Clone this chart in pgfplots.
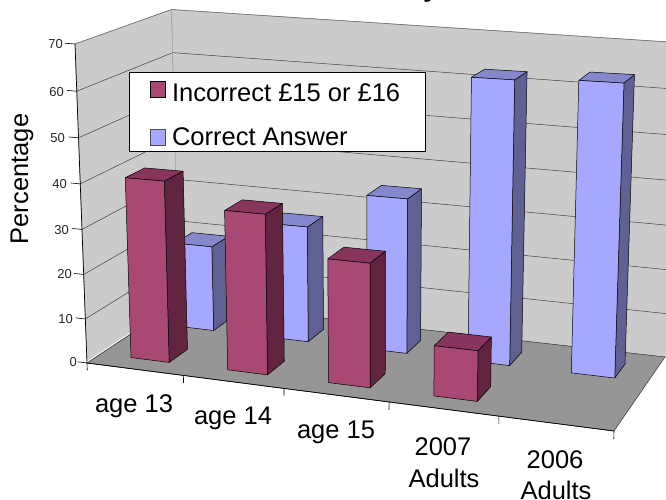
\documentclass[border=0pt]{standalone}
\usepackage{fontspec}
\setmainfont{Liberation Sans}
\usepackage{pgfplots}
\pgfplotsset{compat=1.18}
\definecolor{mfront}{HTML}{A94873}
\definecolor{mtop}{HTML}{87355C}
\definecolor{mside}{HTML}{622540}
\definecolor{bfront}{HTML}{A6A8FF}
\definecolor{btop}{HTML}{8587CC}
\definecolor{bside}{HTML}{5F6193}
\definecolor{wallc}{HTML}{CBCBCB}
\definecolor{floorc}{HTML}{969696}
% Perspective projection of (u = along categories 0..1, v = depth 0..1, p = percentage)
\newcommand\PD{(1-0.1048*\thisrow{u}+0.0954*\thisrow{v}-0.000571*\thisrow{p})}
\newcommand\PX{(462.65*\thisrow{u}+109.08*\thisrow{v}-0.2143*\thisrow{p}+87)/\PD}
\newcommand\PY{(22.83*\thisrow{u}-32.19*\thisrow{v}-4.5823*\thisrow{p}+363)/\PD}
\newcommand\PYW{\PY+0.1143*\thisrow{u}*\thisrow{p}}
\newcommand\face[5]{%
  \addplot[fill=#1,draw=black,line width=0.5pt,line join=round,forget plot]
    table[row sep=\\,x expr=\PX,y expr=\PY]{u v p\\ #2\\ #3\\ #4\\ #5\\ #2\\};}
% \barbox{front}{top}{side}{u0}{u1}{v0}{v1}{value}
\newcommand\barbox[8]{%
  \face{#3}{#5 #6 0}{#5 #7 0}{#5 #7 #8}{#5 #6 #8}%
  \face{#2}{#4 #6 #8}{#5 #6 #8}{#5 #7 #8}{#4 #7 #8}%
  \face{#1}{#4 #6 0}{#5 #6 0}{#5 #6 #8}{#4 #6 #8}}
\newcommand\wallpoly[5]{%
  \addplot[fill=#1,draw=#1!70!black,line width=0.4pt,forget plot]
    table[row sep=\\,x expr=\PX,y expr=\PYW]{u v p\\ #2\\ #3\\ #4\\ #5\\ #2\\};}
\newcommand\gridl[1]{%
  \addplot[draw=black!75,line width=0.5pt,forget plot]
    table[row sep=\\,x expr=\PX,y expr=\PYW]{u v p\\ 0 0 #1\\ 0 1 #1\\ 1.05 1 #1\\};}
\newcommand\segm[3]{%
  \addplot[#1,forget plot]
    table[row sep=\\,x expr=\PX,y expr=\PYW]{u v p\\ #2\\ #3\\};}
\begin{document}
\begin{tikzpicture}
\path[use as bounding box,clip] (0,0) rectangle (666pt,500pt);
\begin{axis}[
  at={(0,0)},anchor=south west,
  width=666pt,height=500pt,scale only axis,
  xmin=0,xmax=666,ymin=0,ymax=500,y dir=reverse,
  hide axis,clip=false,
  legend style={at={(axis cs:129,72)},anchor=north west,draw=black,line width=0.6pt,fill=white,
    font=\fontsize{25.5pt}{28pt}\selectfont,inner xsep=21pt,inner ysep=2.5pt,row sep=21pt},
  legend cell align=left,
]
% walls, floor
\wallpoly{wallc}{0 0 0}{0 0 70}{0 1 70}{0 1 0}
\wallpoly{wallc}{0 1 0}{0 1 70}{1.05 1 70}{1.05 1 0}
\addplot[fill=floorc,draw=black!80,line width=0.5pt,forget plot]
  table[row sep=\\,x expr=\PX,y expr=\PYW]{u v p\\ 0 0 0\\ 1 0 0\\ 1 1 0\\ 0 1 0\\ 0 0 0\\};
\gridl{10}\gridl{20}\gridl{30}\gridl{40}\gridl{50}\gridl{60}
\segm{draw=black!55,line width=0.6pt}{0 0 70}{0 1 70}
\segm{draw=black!55,line width=0.6pt}{0 1 70}{1.05 1 70}
\segm{draw=black!30,line width=0.5pt}{0 1 0}{0 1 70}
\segm{draw=black,line width=0.7pt}{0 0 0}{0 0 70}
\segm{draw=white,line width=0.7pt}{0 0 0.3}{0 1 0.3}
\segm{draw=black,line width=0.7pt}{0 0 0}{1 0 0}
% value-axis ticks
\segm{draw=black,line width=0.6pt}{-0.02 0 0}{0 0 0}
\segm{draw=black,line width=0.6pt}{-0.02 0 10}{0 0 10}
\segm{draw=black,line width=0.6pt}{-0.02 0 20}{0 0 20}
\segm{draw=black,line width=0.6pt}{-0.02 0 30}{0 0 30}
\segm{draw=black,line width=0.6pt}{-0.02 0 40}{0 0 40}
\segm{draw=black,line width=0.6pt}{-0.02 0 50}{0 0 50}
\segm{draw=black,line width=0.6pt}{-0.02 0 60}{0 0 60}
\segm{draw=black,line width=0.6pt}{-0.02 0 70}{0 0 70}
% category ticks
\segm{draw=black,line width=0.6pt}{0 0 0}{0 0 -1.7}
\segm{draw=black,line width=0.6pt}{0.2 0 0}{0.2 0 -1.7}
\segm{draw=black,line width=0.6pt}{0.4 0 0}{0.4 0 -1.7}
\segm{draw=black,line width=0.6pt}{0.6 0 0}{0.6 0 -1.7}
\segm{draw=black,line width=0.6pt}{0.8 0 0}{0.8 0 -1.7}
\segm{draw=black,line width=0.6pt}{1 0 0}{1 0 -1.7}
% Correct Answer (back row)
\barbox{bfront}{btop}{bside}{0.064}{0.144}{0.64}{0.84}{19.7}
\barbox{bfront}{btop}{bside}{0.264}{0.344}{0.64}{0.84}{26.4}
\barbox{bfront}{btop}{bside}{0.464}{0.544}{0.64}{0.84}{34.7}
\barbox{bfront}{btop}{bside}{0.664}{0.744}{0.64}{0.84}{61.9}
\barbox{bfront}{btop}{bside}{0.860}{0.940}{0.64}{0.84}{62.6}
% Incorrect (front row)
\barbox{mfront}{mtop}{mside}{0.064}{0.144}{0.14}{0.34}{40.4}
\barbox{mfront}{mtop}{mside}{0.264}{0.344}{0.14}{0.34}{35.2}
\barbox{mfront}{mtop}{mside}{0.464}{0.544}{0.14}{0.34}{26.9}
\barbox{mfront}{mtop}{mside}{0.664}{0.744}{0.14}{0.34}{10.8}
% legend
\addlegendimage{legend image code/.code={\draw[fill=mfront,draw=black,line width=0.8pt] (0pt,-7.5pt) rectangle (15pt,8.5pt);\path (19pt,0pt);}}
\addlegendentry{\rule{0pt}{24.5pt}Incorrect £15 or £16\hspace*{2pt}}
\addlegendimage{legend image code/.code={\draw[fill=bfront,draw=black!70,line width=0.8pt] (0pt,-7.5pt) rectangle (15pt,8.5pt);\path (19pt,0pt);}}
\addlegendentry{Correct Answer}
% labels
\tikzset{tl/.style={anchor=east,font=\fontsize{13pt}{15pt}\selectfont,text=black!85,inner sep=0pt},
         cl/.style={anchor=center,font=\fontsize{25.5pt}{28pt}\selectfont,inner sep=0pt}}
\node[tl] at (axis cs:63,44) {70};
\node[tl] at (axis cs:64,92) {60};
\node[tl] at (axis cs:65,138) {50};
\node[tl] at (axis cs:67,184) {40};
\node[tl] at (axis cs:69,230) {30};
\node[tl] at (axis cs:72,274) {20};
\node[tl] at (axis cs:73,319) {10};
\node[tl] at (axis cs:77,362) {0};
\node[cl] at (axis cs:134,406) {age 13};
\node[cl] at (axis cs:233,418) {age 14};
\node[cl] at (axis cs:336,432) {age 15};
\node[cl] at (axis cs:443,447) {2007};
\node[cl] at (axis cs:444,478) {Adults};
\node[cl] at (axis cs:555,460) {2006};
\node[cl] at (axis cs:556,490.5) {Adults};
\node[cl,rotate=90] at (axis cs:22,179) {Percentage};
\node[anchor=base,font=\fontsize{28pt}{30pt}\bfseries\selectfont,inner sep=0pt] at (axis cs:431,-3) {y};
\end{axis}
\end{tikzpicture}
\end{document}
